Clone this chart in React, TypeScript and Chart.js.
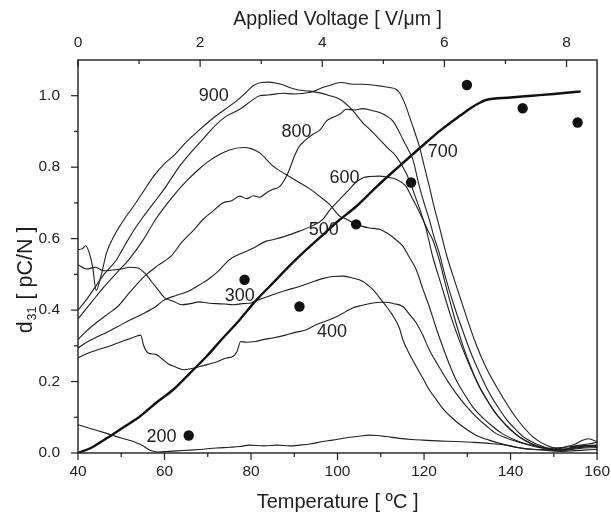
import React, { useEffect, useRef } from 'react';
import { Chart, registerables } from 'chart.js';

Chart.register(...registerables);

const FONT = "'Liberation Sans', Arial, Helvetica, sans-serif";
const INK = '#1e1e1e';

// axis ticks
const tempMajorTicks = [40, 60, 80, 100, 120, 140, 160];
const tempMinorTicks = [50, 70, 90, 110, 130, 150];
const voltMajorTicks = [0, 2, 4, 6, 8];
const voltMinorTicks = [1, 3, 5, 7];
const d31MajorTicks = [0, 0.2, 0.4, 0.6, 0.8, 1.0];
const d31MinorTicks = [0.1, 0.3, 0.5, 0.7, 0.9];

// measured curves: temperature (ºC) and d31 (pC/N)
const t900 = [40, 41, 41.8, 42.6, 43.4, 44.2, 45.2, 46.6, 48, 49.2, 51, 52.8, 55, 57.5, 60, 62, 65, 68.2, 71, 74, 76.6, 78.5, 80.5, 82.4, 84, 85.9, 87.5, 88.9, 91, 93.5, 96, 98.2, 100.5, 103, 105.8, 107.5, 109.7, 111.5, 113.5, 115.8, 117, 118.2, 119.5, 120.5, 122, 124, 126, 128, 130, 132, 134, 136, 138, 140, 142, 145, 148, 151, 154, 157, 160];
const d900 = [0.569, 0.572, 0.58, 0.56, 0.52, 0.455, 0.49, 0.56, 0.6, 0.626, 0.66, 0.69, 0.73, 0.775, 0.81, 0.831, 0.87, 0.906, 0.935, 0.962, 0.985, 1.005, 1.028, 1.037, 1.038, 1.035, 1.03, 1.023, 1.016, 1.013, 1.008, 1.0, 0.99, 0.965, 0.925, 0.905, 0.878, 0.855, 0.831, 0.785, 0.75, 0.71, 0.665, 0.626, 0.55, 0.47, 0.39, 0.32, 0.26, 0.205, 0.16, 0.12, 0.09, 0.065, 0.045, 0.025, 0.012, 0.008, 0.01, 0.014, 0.015];

const t700 = [40, 42, 44, 46, 48.9, 51, 53, 55, 57.5, 60, 63.5, 66, 69, 72, 74.3, 77.4, 80, 82, 84, 87.4, 90, 93.5, 95, 96.6, 98.5, 99.7, 101, 103, 105.8, 108, 110, 112, 113.5, 114.3, 115.5, 116.6, 117.8, 118.9, 120, 121.2, 122.3, 123.5, 125.3, 127.4, 129.7, 132, 134.3, 137.4, 141.2, 145.1, 149, 151, 153, 155, 156.5, 158, 160];
const d700 = [0.4, 0.43, 0.465, 0.5, 0.541, 0.585, 0.625, 0.66, 0.7, 0.74, 0.803, 0.84, 0.88, 0.92, 0.943, 0.962, 0.985, 1.0, 1.002, 1.007, 1.005, 1.009, 1.015, 1.023, 1.03, 1.035, 1.037, 1.033, 1.032, 1.03, 1.027, 1.023, 1.018, 1.009, 0.98, 0.943, 0.9, 0.859, 0.805, 0.747, 0.69, 0.635, 0.55, 0.47, 0.385, 0.305, 0.24, 0.172, 0.1, 0.046, 0.018, 0.012, 0.018, 0.025, 0.035, 0.04, 0.032];

const t500 = [40, 43, 46, 49, 52, 55, 58, 62, 65, 68, 70, 72.8, 75, 78.2, 80, 82, 85.1, 88, 91.2, 93.5, 95.8, 98.2, 100.5, 102, 104.3, 105.5, 107.4, 109.7, 111.5, 113.5, 115.1, 116.5, 118.2, 119.7, 121.2, 122.8, 124.3, 125.8, 127.4, 129.3, 131.2, 133, 135, 138, 141.2, 143.5, 146.6, 150, 153, 156, 160];
const d500 = [0.375, 0.42, 0.465, 0.505, 0.545, 0.595, 0.655, 0.719, 0.76, 0.795, 0.815, 0.836, 0.848, 0.855, 0.852, 0.84, 0.803, 0.78, 0.757, 0.74, 0.719, 0.695, 0.663, 0.655, 0.64, 0.635, 0.63, 0.626, 0.615, 0.597, 0.579, 0.55, 0.513, 0.46, 0.41, 0.35, 0.298, 0.25, 0.205, 0.165, 0.13, 0.105, 0.083, 0.055, 0.036, 0.026, 0.018, 0.01, 0.012, 0.018, 0.02];

const t800 = [40, 42, 44.6, 47, 49.2, 52, 55.4, 58.5, 61.5, 64, 66.9, 69, 71, 73.5, 75.5, 77.4, 79, 80.5, 82, 83.5, 85.1, 86.5, 88, 88.9, 90, 91.2, 92.5, 94.3, 96, 97.4, 99, 100.5, 102, 104, 105.8, 107.5, 109.7, 111.5, 112.8, 114, 115.1, 116.3, 117.4, 118.9, 120, 121.2, 122.3, 123.5, 125, 127, 129, 131, 133, 135, 137, 139, 141, 143, 146, 149, 152, 155, 158, 160];
const d800 = [0.317, 0.342, 0.368, 0.39, 0.41, 0.45, 0.495, 0.525, 0.551, 0.59, 0.626, 0.655, 0.675, 0.7, 0.706, 0.719, 0.712, 0.72, 0.716, 0.728, 0.738, 0.745, 0.77, 0.794, 0.83, 0.859, 0.875, 0.892, 0.905, 0.929, 0.94, 0.948, 0.962, 0.96, 0.964, 0.96, 0.953, 0.942, 0.929, 0.905, 0.878, 0.85, 0.822, 0.747, 0.7, 0.654, 0.605, 0.56, 0.49, 0.41, 0.34, 0.275, 0.22, 0.17, 0.13, 0.095, 0.068, 0.045, 0.025, 0.012, 0.008, 0.02, 0.025, 0.03];

const t600 = [40, 42, 44.6, 47, 49.2, 52, 55.4, 58, 60, 62.5, 65.4, 68, 70, 72.5, 75, 78, 80, 83.5, 85, 88, 91.2, 94, 96.6, 98.2, 100.5, 102.5, 104, 105.8, 107.5, 109.7, 111.5, 113.5, 115.8, 117.4, 118.5, 119.7, 121, 122, 123.5, 125, 127, 129, 131, 133, 135, 137, 139, 141, 143, 146, 149, 152, 154, 157, 160];
const d600 = [0.294, 0.31, 0.326, 0.34, 0.354, 0.372, 0.392, 0.41, 0.429, 0.44, 0.452, 0.47, 0.485, 0.51, 0.541, 0.56, 0.57, 0.593, 0.597, 0.607, 0.621, 0.635, 0.654, 0.68, 0.71, 0.735, 0.755, 0.77, 0.774, 0.775, 0.772, 0.766, 0.747, 0.71, 0.685, 0.654, 0.62, 0.597, 0.541, 0.47, 0.38, 0.3, 0.235, 0.18, 0.14, 0.105, 0.078, 0.055, 0.038, 0.02, 0.01, 0.005, 0.012, 0.02, 0.022];

const t300 = [40, 42, 44, 46, 48, 50, 52, 53.8, 55.4, 57, 58.5, 60, 62, 64, 66, 68, 70, 72, 74, 75.8, 78, 80, 82, 85, 88, 91.2, 94, 96.5, 98.9, 101.3, 103.5, 105.9, 107, 108.2, 109.7, 111.3, 112.5, 114.3, 115.1, 116.5, 118.2, 119.7, 121.2, 122.8, 124.3, 126.5, 128.9, 132, 135, 139, 142.8, 146, 149, 152, 156, 160];
const d300 = [0.527, 0.515, 0.52, 0.51, 0.512, 0.515, 0.52, 0.518, 0.504, 0.48, 0.457, 0.435, 0.425, 0.415, 0.418, 0.423, 0.42, 0.418, 0.417, 0.415, 0.418, 0.42, 0.43, 0.443, 0.455, 0.466, 0.478, 0.488, 0.494, 0.495, 0.49, 0.48, 0.47, 0.457, 0.435, 0.41, 0.39, 0.35, 0.317, 0.28, 0.242, 0.21, 0.177, 0.15, 0.125, 0.098, 0.074, 0.05, 0.036, 0.022, 0.013, 0.01, 0.008, 0.01, 0.015, 0.02];

const t400 = [40, 42, 44.6, 47, 49.2, 51.5, 53.8, 54.5, 55.2, 56.2, 58, 59.2, 60.8, 62.3, 64.5, 66, 68.2, 70, 72, 74.3, 75.8, 76.8, 77.6, 79, 81, 83, 85.1, 88, 90, 92.8, 95, 97.5, 100, 101.8, 103.5, 105.5, 108.2, 110, 111.3, 113, 115.1, 116.5, 118.2, 119.7, 121.2, 122.8, 124.3, 125.8, 127.4, 129.7, 132, 134.3, 136.6, 139.5, 142.8, 145.5, 148, 152, 156, 160];
const d400 = [0.266, 0.278, 0.289, 0.298, 0.308, 0.318, 0.328, 0.33, 0.3, 0.28, 0.276, 0.266, 0.25, 0.242, 0.233, 0.236, 0.242, 0.248, 0.255, 0.266, 0.27, 0.285, 0.312, 0.31, 0.312, 0.318, 0.322, 0.33, 0.337, 0.345, 0.359, 0.37, 0.383, 0.395, 0.406, 0.413, 0.42, 0.422, 0.422, 0.418, 0.41, 0.39, 0.364, 0.33, 0.289, 0.255, 0.224, 0.195, 0.167, 0.132, 0.102, 0.077, 0.055, 0.04, 0.027, 0.018, 0.013, 0.015, 0.02, 0.02];

const t200 = [40, 43, 46.6, 50, 52.8, 55, 56.6, 58.5, 60.5, 63, 65.8, 68.2, 72, 75, 77.4, 79.7, 83, 86, 89, 91.2, 94, 96.5, 98.9, 100.8, 102.8, 105, 107.4, 109, 111.2, 114.3, 117, 119.7, 123, 127.4, 131, 135, 139, 142.8, 145.5, 148, 151, 154, 157, 160];
const d200 = [0.079, 0.068, 0.055, 0.042, 0.032, 0.02, 0.008, 0.003, 0.004, 0.006, 0.008, 0.01, 0.014, 0.016, 0.018, 0.022, 0.02, 0.022, 0.02, 0.022, 0.026, 0.032, 0.036, 0.04, 0.044, 0.047, 0.05, 0.049, 0.046, 0.041, 0.038, 0.036, 0.034, 0.032, 0.03, 0.027, 0.022, 0.013, 0.01, 0.008, 0.005, 0.006, 0.008, 0.01];

// model curve (thick)
const tModel = [40, 43, 46.6, 50, 54.3, 58, 62, 66, 69.7, 73, 77.4, 81, 85.1, 89, 92.8, 97, 100, 104.3, 109, 114.3, 120.5, 124, 128.2, 131, 133, 134.3, 140, 145, 150, 156.2];
const dModel = [0, 0.014, 0.041, 0.068, 0.102, 0.14, 0.177, 0.225, 0.27, 0.315, 0.373, 0.425, 0.476, 0.525, 0.569, 0.615, 0.648, 0.69, 0.745, 0.803, 0.869, 0.905, 0.943, 0.967, 0.981, 0.988, 0.995, 1.0, 1.005, 1.012];

// filled dots
const tDots = [65.6, 78.5, 91.2, 104.3, 117, 129.9, 142.8, 155.5];
const dDots = [0.049, 0.485, 0.41, 0.64, 0.757, 1.03, 0.965, 0.925];

// curve annotations
const curveLabels = ['900', '800', '700', '600', '500', '300', '400', '200'];
const curveLabelT = [71.4, 90.5, 124.3, 101.6, 96.8, 77.4, 98.7, 59.3];
const curveLabelV = [1.0, 0.897, 0.843, 0.771, 0.625, 0.44, 0.338, 0.0446];

const xy = (ts: number[], vs: number[]) => ts.map((t, i) => ({ x: t, y: vs[i] }));

const thinCurves = [
  [t900, d900], [t700, d700], [t500, d500], [t800, d800],
  [t600, d600], [t300, d300], [t400, d400], [t200, d200],
];

const framePlugin = {
  id: 'frameTicks',
  afterDraw(chart: any) {
    const { ctx, chartArea: a, scales } = chart;
    ctx.save();
    ctx.strokeStyle = INK;
    ctx.lineWidth = 1.4;
    ctx.strokeRect(a.left, a.top, a.right - a.left, a.bottom - a.top);
    ctx.lineWidth = 1.2;
    const line = (x1: number, y1: number, x2: number, y2: number) => {
      ctx.beginPath(); ctx.moveTo(x1, y1); ctx.lineTo(x2, y2); ctx.stroke();
    };
    tempMajorTicks.forEach(t => { const p = scales.x.getPixelForValue(t); line(p, a.bottom, p, a.bottom + 7); });
    tempMinorTicks.forEach(t => { const p = scales.x.getPixelForValue(t); line(p, a.bottom, p, a.bottom + 4); });
    voltMajorTicks.forEach(t => { const p = scales.x2.getPixelForValue(t); line(p, a.top, p, a.top + 7); });
    voltMinorTicks.forEach(t => { const p = scales.x2.getPixelForValue(t); line(p, a.top, p, a.top + 4); });
    d31MajorTicks.forEach(t => { const p = scales.y.getPixelForValue(t); line(a.left - 7, p, a.left, p); });
    d31MinorTicks.forEach(t => { const p = scales.y.getPixelForValue(t); line(a.left - 4, p, a.left, p); });

    // curve labels
    ctx.fillStyle = INK;
    ctx.font = `18px ${FONT}`;
    ctx.textAlign = 'center';
    ctx.textBaseline = 'middle';
    curveLabels.forEach((s, i) => {
      ctx.fillText(s, scales.x.getPixelForValue(curveLabelT[i]), scales.y.getPixelForValue(curveLabelV[i]));
    });

    // y-axis title with subscript
    ctx.translate(24, 280);
    ctx.rotate(-Math.PI / 2);
    const big = `21.5px ${FONT}`;
    const small = `12.5px ${FONT}`;
    ctx.font = big; const w1 = ctx.measureText('d').width;
    ctx.font = small; const w2 = ctx.measureText('31').width + 2;
    ctx.font = big; const w3 = ctx.measureText(' [ pC/N ]').width;
    let x0 = -(w1 + w2 + w3) / 2;
    ctx.textAlign = 'left';
    ctx.textBaseline = 'alphabetic';
    ctx.font = big; ctx.fillText('d', x0, 8); x0 += w1 + 1;
    ctx.font = small; ctx.fillText('31', x0, 12); x0 += w2 - 1;
    ctx.font = big; ctx.fillText(' [ pC/N ]', x0, 8);
    ctx.restore();
  },
};

export default function App() {
  const ref = useRef<HTMLCanvasElement | null>(null);
  useEffect(() => {
    if (!ref.current) return;
    const datasets: any[] = thinCurves.map(([ts, vs]) => ({
      data: xy(ts, vs), showLine: true, borderColor: INK, borderWidth: 1.1,
      pointRadius: 0, cubicInterpolationMode: 'monotone', fill: false,
    }));
    datasets.push({
      data: xy(tModel, dModel), showLine: true, borderColor: '#111', borderWidth: 2.4,
      pointRadius: 0, cubicInterpolationMode: 'monotone', fill: false,
    });
    datasets.push({
      data: xy(tDots, dDots), showLine: false, pointRadius: 5.2,
      pointBackgroundColor: '#111', pointBorderWidth: 0, pointBorderColor: '#111',
    });
    const tickFont = { family: FONT, size: 15.5 };
    const chart = new Chart(ref.current, {
      type: 'scatter',
      data: { datasets },
      options: {
        animation: false,
        responsive: true,
        maintainAspectRatio: false,
        layout: { padding: { left: 0, right: 13, top: 0, bottom: 0 } },
        plugins: { legend: { display: false }, tooltip: { enabled: false } },
        scales: {
          x: {
            type: 'linear', position: 'bottom', min: 40, max: 160,
            afterBuildTicks: (s: any) => { s.ticks = tempMajorTicks.map(v => ({ value: v })); },
            afterFit: (s: any) => { s.height = 60; },
            grid: { display: false }, border: { display: false },
            ticks: { font: tickFont, color: INK, padding: 1, maxRotation: 0, autoSkip: false },
            title: { display: true, text: 'Temperature [ ºC ]', color: INK, font: { family: FONT, size: 20, lineHeight: 1 }, padding: { top: 0, bottom: 1 } },
          },
          x2: {
            type: 'linear', position: 'top', min: 0, max: 8.5,
            afterBuildTicks: (s: any) => { s.ticks = voltMajorTicks.map(v => ({ value: v })); },
            afterFit: (s: any) => { s.height = 60; },
            grid: { display: false }, border: { display: false },
            ticks: { font: tickFont, color: INK, padding: 0, maxRotation: 0, autoSkip: false },
            title: { display: true, text: 'Applied Voltage [ V/μm ]', color: INK, font: { family: FONT, size: 19.5, lineHeight: 1 }, padding: { top: 10, bottom: 0 } },
          },
          y: {
            type: 'linear', position: 'left', min: 0, max: 1.1,
            afterBuildTicks: (s: any) => { s.ticks = d31MajorTicks.map(v => ({ value: v })); },
            afterFit: (s: any) => { s.width = 78; },
            grid: { display: false }, border: { display: false },
            ticks: { font: tickFont, color: INK, padding: 10, callback: (v: any) => Number(v).toFixed(1) },
          },
        },
      },
      plugins: [framePlugin],
    });
    return () => chart.destroy();
  }, []);
  return (
    <div style={{ position: 'fixed', left: 0, top: 0, width: 611, height: 513, background: '#fff' }}>
      <canvas ref={ref} />
    </div>
  );
}
